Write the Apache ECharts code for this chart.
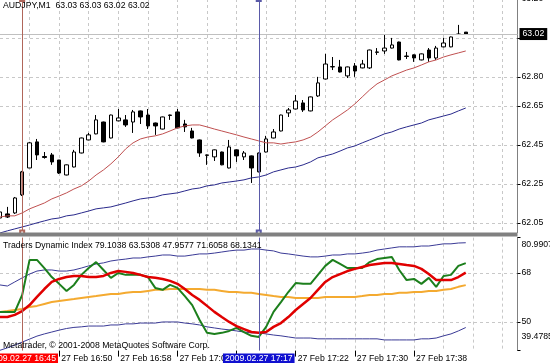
<!DOCTYPE html>
<html><head><meta charset="utf-8">
<script src="https://cdn.jsdelivr.net/npm/echarts@6/dist/echarts.min.js"></script>
<style>html,body{margin:0;padding:0;background:#fff}#c{width:550px;height:363px}</style>
</head><body><div id="c"></div>
<script>
// ---- categories (1-minute bars, 27 Feb 2009) ----
const times = ['16:42','16:43','16:44','16:45','16:46','16:47','16:48','16:49','16:50','16:51',
 '16:52','16:53','16:54','16:55','16:56','16:57','16:58','16:59','17:00','17:01',
 '17:02','17:03','17:04','17:05','17:06','17:07','17:08','17:09','17:10','17:11',
 '17:12','17:13','17:14','17:15','17:16','17:17','17:18','17:19','17:20','17:21',
 '17:22','17:23','17:24','17:25','17:26','17:27','17:28','17:29','17:30','17:31',
 '17:32','17:33','17:34','17:35','17:36','17:37','17:38','17:39','17:40','17:41',
 '17:42','17:43','17:44','17:45','17:46','17:47','17:48','17:49','17:50','17:51','17:52'];

// ---- AUDJPY M1 candles ----
const opens = [62.075,62.096,62.101,62.194,62.332,62.466,62.391,62.399,62.373,62.296,
 62.337,62.409,62.476,62.507,62.568,62.486,62.574,62.579,62.568,62.625,
 62.604,62.563,62.532,62.604,62.620,62.558,62.522,62.476,62.399,62.389,
 62.414,62.332,62.425,62.389,62.394,62.312,62.414,62.486,62.522,62.615,
 62.635,62.666,62.625,62.702,62.789,62.851,62.851,62.805,62.856,62.846,
 62.846,62.928,62.933,62.948,62.979,62.907,62.913,62.887,62.938,62.897,
 62.954,62.954,63.020,63.030];
const highs = [62.116,62.132,62.183,62.317,62.466,62.481,62.414,62.409,62.373,62.350,
 62.425,62.488,62.512,62.604,62.570,62.606,62.635,62.604,62.630,62.627,
 62.635,62.565,62.596,62.606,62.635,62.579,62.538,62.478,62.401,62.427,
 62.416,62.476,62.427,62.419,62.396,62.411,62.497,62.532,62.606,62.640,
 62.707,62.681,62.699,62.800,62.918,62.902,62.887,62.853,62.871,62.887,
 62.940,62.948,63.015,63.000,62.981,62.928,62.915,62.920,62.948,62.959,
 63.000,63.007,63.067,63.030];
const lows = [62.065,62.075,62.096,62.188,62.332,62.373,62.380,62.348,62.301,62.294,
 62.335,62.407,62.474,62.505,62.464,62.484,62.572,62.543,62.512,62.558,
 62.532,62.502,62.530,62.579,62.536,62.517,62.484,62.389,62.348,62.368,
 62.346,62.330,62.363,62.373,62.255,62.310,62.412,62.484,62.520,62.594,
 62.633,62.620,62.623,62.697,62.787,62.835,62.823,62.794,62.800,62.844,
 62.841,62.913,62.918,62.946,62.885,62.892,62.877,62.885,62.877,62.887,
 62.952,62.952,63.015,63.020];
const closes = [62.106,62.080,62.178,62.312,62.461,62.399,62.386,62.363,62.306,62.348,
 62.414,62.486,62.502,62.579,62.466,62.604,62.589,62.553,62.620,62.594,
 62.548,62.548,62.594,62.602,62.538,62.543,62.486,62.409,62.397,62.425,
 62.348,62.440,62.394,62.409,62.332,62.409,62.481,62.517,62.604,62.630,
 62.676,62.630,62.697,62.769,62.866,62.853,62.825,62.851,62.830,62.866,
 62.938,62.926,62.948,62.964,62.887,62.905,62.897,62.918,62.897,62.948,
 62.974,63.005,63.018,63.020];

// ---- moving averages on price ----
const maFast = [62.080,62.086,62.086,62.101,62.122,62.137,62.152,62.173,62.188,62.204,
 62.224,62.240,62.265,62.296,62.322,62.353,62.389,62.430,62.461,62.481,
 62.491,62.497,62.507,62.522,62.538,62.548,62.553,62.553,62.543,62.532,
 62.522,62.512,62.502,62.491,62.481,62.471,62.461,62.461,62.455,62.461,
 62.466,62.476,62.491,62.517,62.548,62.579,62.604,62.630,62.661,62.697,
 62.733,62.764,62.784,62.805,62.820,62.835,62.846,62.861,62.877,62.887,
 62.902,62.913,62.923,62.933];
const maSlow = [61.998,62.009,62.019,62.029,62.039,62.050,62.060,62.070,62.075,62.086,
 62.091,62.101,62.111,62.122,62.127,62.132,62.142,62.152,62.163,62.173,
 62.178,62.183,62.194,62.199,62.204,62.214,62.224,62.229,62.240,62.245,
 62.255,62.260,62.265,62.271,62.281,62.286,62.296,62.312,62.322,62.332,
 62.337,62.348,62.363,62.384,62.394,62.404,62.419,62.435,62.445,62.461,
 62.476,62.491,62.507,62.517,62.532,62.543,62.553,62.563,62.579,62.589,
 62.599,62.609,62.625,62.640];

// ---- Traders Dynamic Index ----
const tdiUpper = [63.6,63.2,64.7,66.2,67.6,68.7,69.1,69.1,68.7,68.7,
 69.1,69.8,70.6,71.3,71.7,72.4,72.8,73.1,73.5,73.5,
 73.9,74.2,74.6,74.6,74.2,74.2,74.6,75.0,75.0,75.3,
 75.7,76.1,76.4,76.4,76.8,76.8,76.4,76.1,75.3,75.0,
 74.6,74.2,73.9,73.9,74.2,74.6,74.6,75.0,75.0,75.3,
 75.7,76.4,76.8,77.2,77.6,77.6,77.6,77.9,77.9,78.3,
 78.7,78.7,79.0,79.1038];
const tdiLower = [39.6,40.5,41.5,42.6,43.7,44.8,45.6,46.3,47.0,47.6,
 48.0,48.2,48.5,48.5,48.5,48.9,48.9,49.3,49.3,49.6,
 49.6,49.6,50.0,50.0,50.0,49.6,49.3,48.9,48.2,47.8,
 47.4,47.1,46.7,46.3,46.0,46.0,45.6,45.2,44.9,44.5,
 44.1,44.1,44.1,43.8,43.8,43.8,43.8,43.8,43.8,43.8,
 43.8,43.8,43.4,43.4,43.4,43.4,43.4,43.8,43.8,44.1,
 44.9,45.6,46.7,47.9577];
const tdiBase = [53.7,54.0,54.4,54.8,55.5,55.9,56.6,57.3,57.7,58.1,
 58.4,58.8,59.2,59.5,59.9,60.3,60.3,60.7,61.0,61.0,
 61.4,61.8,61.8,62.1,62.1,62.1,62.1,62.1,61.8,61.8,
 61.4,61.0,61.0,60.7,60.7,60.3,59.9,59.5,59.2,59.2,
 58.8,58.8,58.8,58.8,59.2,59.2,59.2,59.2,59.2,59.5,
 59.9,59.9,60.3,60.3,60.7,60.7,61.0,61.0,61.4,61.4,
 61.8,62.1,62.9,63.5308];
const tdiPrice = [53.7,53.7,53.7,59.9,72.8,72.8,69.8,66.5,64.0,61.4,
 63.6,67.3,69.8,72.0,69.1,66.2,68.0,67.3,67.3,67.3,
 66.5,62.5,61.8,63.6,62.5,59.5,56.2,50.7,46.0,45.6,
 46.0,46.7,47.8,46.3,44.9,44.5,48.2,53.7,57.3,61.0,
 64.3,64.0,64.0,67.3,70.6,72.8,71.3,69.8,69.8,69.8,
 72.0,73.1,73.5,73.9,69.1,65.4,65.8,64.0,66.2,62.9,
 66.9,67.3,70.6,71.6058];
const tdiSignal = [51.8,51.8,52.6,54.0,56.2,59.2,62.1,64.7,65.8,66.5,
 66.9,66.9,66.5,66.5,66.9,68.0,68.7,68.4,68.0,67.3,
 66.5,66.2,65.8,65.1,64.0,62.1,59.9,58.1,55.9,53.7,
 51.8,50.0,48.5,47.4,46.3,46.0,46.3,48.2,49.6,51.8,
 54.4,56.6,58.8,61.8,64.7,66.5,67.6,68.7,69.5,70.2,
 70.9,71.3,71.7,71.7,71.3,70.9,70.6,69.5,67.6,65.4,
 65.4,65.4,66.5,68.1341];

// ---- axis tick labels ----
const priceTicks = [63.20, 63.00, 62.80, 62.65, 62.45, 62.25, 62.05];
const tdiTicks = [80.9907, 68, 50, 39.4785];
const lastPrice = 63.02;
const markTimes = ['16:45', '17:17'];
const markLabels = ['2009.02.27 16:45', '2009.02.27 17:17'];

const F = '"Liberation Sans", Arial, sans-serif';
const FS = 8.7;
const gridCol = '#c8c8c8';
const redV = '#b0665a', blueV = '#5a5aa8';

const candleData = opens.map((o, i) => {
  const item = { value: [o, closes[i], lows[i], highs[i]] };
  if (times[i] === markTimes[0]) item.itemStyle = { color: '#c49a94' };
  if (times[i] === markTimes[1]) item.itemStyle = { color: '#9a9ac4' };
  return item;
});

const chart = echarts.init(document.getElementById('c'), null, { renderer: 'canvas' });
const txt = { fontFamily: F, fontSize: FS, fontWeight: 'normal', color: '#000' };
const tdiMax = tdiTicks[0], tdiMin = tdiTicks[tdiTicks.length - 1];

chart.setOption({
  animation: false,
  backgroundColor: '#ffffff',
  textStyle: { fontFamily: F },
  title: [
    { text: 'AUDJPY,M1  63.03 63.03 63.02 63.02', left: 3, top: 1, padding: 0, textStyle: txt },
    { text: 'Traders Dynamic Index 79.1038 63.5308 47.9577 71.6058 68.1341', left: 3, top: 241, padding: 0, textStyle: txt },
    { text: 'Metatrader, \u00A9 2001-2008 MetaQuotes Software Corp.', left: 3, top: 341, padding: 0, textStyle: txt }
  ],
  grid: [
    { left: 0, right: 32.5, top: -1, height: 233.6, outerBoundsMode: 'none', containLabel: false },
    { left: 0, right: 32.5, top: 237.6, height: 113, outerBoundsMode: 'none', containLabel: false }
  ],
  xAxis: [
    { type: 'category', gridIndex: 0, data: times, boundaryGap: false,
      axisLine: { show: false }, axisTick: { show: false }, axisLabel: { show: false },
      splitLine: { show: true, interval: (i) => i % 4 === 0 && i > 0, lineStyle: { color: gridCol, type: [3, 3] } } },
    { type: 'category', gridIndex: 1, data: times, boundaryGap: false,
      axisLine: { show: false },
      axisTick: { show: true, interval: (i) => i % 8 === 0 && i > 0 && i < 64, length: 6, lineStyle: { color: '#000' } },
      axisLabel: { show: true, interval: (i) => i % 8 === 0 && i > 0 && i < 64, formatter: (v) => '27 Feb ' + v,
        align: 'left', margin: 4, padding: [0, 0, 0, 2], fontFamily: F, fontSize: FS, color: '#000' },
      splitLine: { show: true, interval: (i) => i % 4 === 0 && i > 0, lineStyle: { color: gridCol, type: [3, 3] } } }
  ],
  yAxis: [
    { type: 'value', gridIndex: 0, position: 'right', min: 62.0, max: 63.2, scale: true,
      axisLine: { show: true, lineStyle: { color: '#808080' } },
      axisTick: { show: true, customValues: priceTicks, length: 3, lineStyle: { color: '#000' } },
      axisLabel: { show: true, customValues: priceTicks, formatter: (v) => v.toFixed(2),
        margin: 4, fontFamily: F, fontSize: FS, color: '#000' },
      splitLine: { show: true, lineStyle: { color: gridCol, type: [3, 3] } } },
    { type: 'value', gridIndex: 1, position: 'right', min: tdiMin, max: tdiMax, scale: true,
      axisLine: { show: true, lineStyle: { color: '#808080' } },
      axisTick: { show: true, customValues: tdiTicks, length: 3, lineStyle: { color: '#000' } },
      axisLabel: { show: true, customValues: tdiTicks,
        formatter: (v) => (v === tdiMax ? '{hi|' + v + '}' : (v === tdiMin ? '{lo|' + v + '}' : String(v))),
        rich: { hi: { padding: [14, 0, 0, 0], fontFamily: F, fontSize: FS, color: '#000' },
                lo: { padding: [0, 0, 27, 0], fontFamily: F, fontSize: FS, color: '#000' } },
        margin: 4, fontFamily: F, fontSize: FS, color: '#000' },
      splitLine: { show: true, showMinLine: false, showMaxLine: false, lineStyle: { color: gridCol, type: [3, 3] } } }
  ],
  series: [
    { type: 'candlestick', name: 'AUDJPY', xAxisIndex: 0, yAxisIndex: 0, data: candleData, barWidth: 4,
      itemStyle: { color: '#ffffff', color0: '#000000', borderColor: '#000000', borderColor0: '#000000', borderWidth: 1 },
      markLine: { silent: true, symbol: ['none', 'none'], animation: false,
        data: [ { yAxis: lastPrice, lineStyle: { color: '#c0c0c0', type: 'solid', width: 1 },
          label: { show: true, position: 'end', formatter: lastPrice.toFixed(2), backgroundColor: '#000', color: '#fff',
            padding: [2, 3, 1, 3], distance: 2, fontFamily: F, fontSize: FS } } ] } },
    { type: 'line', name: 'MA fast', xAxisIndex: 0, yAxisIndex: 0, data: maFast, symbol: 'none',
      lineStyle: { color: '#c05050', width: 1 }, z: 3,
      markLine: { silent: true, symbol: ['emptyRect', 'emptyRect'], symbolSize: 4, animation: false,
        label: { show: false },
        data: [ { xAxis: markTimes[0], lineStyle: { color: redV, type: 'solid', width: 1 } },
                { xAxis: markTimes[1], lineStyle: { color: blueV, type: 'solid', width: 1 } } ] } },
    { type: 'line', name: 'MA slow', xAxisIndex: 0, yAxisIndex: 0, data: maSlow, symbol: 'none',
      lineStyle: { color: '#2a2a8c', width: 1 }, z: 3 },
    { type: 'line', name: 'Upper', xAxisIndex: 1, yAxisIndex: 1, data: tdiUpper, symbol: 'none', lineStyle: { color: '#3a3a96', width: 1 } },
    { type: 'line', name: 'Lower', xAxisIndex: 1, yAxisIndex: 1, data: tdiLower, symbol: 'none', lineStyle: { color: '#3a3a96', width: 1 } },
    { type: 'line', name: 'Base', xAxisIndex: 1, yAxisIndex: 1, data: tdiBase, symbol: 'none', lineStyle: { color: '#f4aa30', width: 2 } },
    { type: 'line', name: 'Price', xAxisIndex: 1, yAxisIndex: 1, data: tdiPrice, symbol: 'none', lineStyle: { color: '#1c7f1c', width: 2 } },
    { type: 'line', name: 'Signal', xAxisIndex: 1, yAxisIndex: 1, data: tdiSignal, symbol: 'none', lineStyle: { color: '#e00000', width: 2.5 },
      markLine: { silent: true, symbol: ['none', 'none'], animation: false,
        data: [
          { xAxis: markTimes[0], lineStyle: { color: redV, type: 'solid', width: 1 },
            label: { show: true, position: 'start', formatter: markLabels[0], backgroundColor: '#ff0000', color: '#fff',
              padding: [1, 2, 0, 2], distance: 3, fontFamily: F, fontSize: FS } },
          { xAxis: markTimes[1], lineStyle: { color: blueV, type: 'solid', width: 1 },
            label: { show: true, position: 'start', formatter: markLabels[1], backgroundColor: '#1010d0', color: '#fff',
              padding: [1, 2, 0, 2], distance: 3, fontFamily: F, fontSize: FS } } ] } }
  ],
  graphic: [
    { type: 'rect', shape: { x: 0, y: 232.6, width: 517.5, height: 4 }, style: { fill: '#808080' }, z: 10 }
  ]
});
</script></body></html>
